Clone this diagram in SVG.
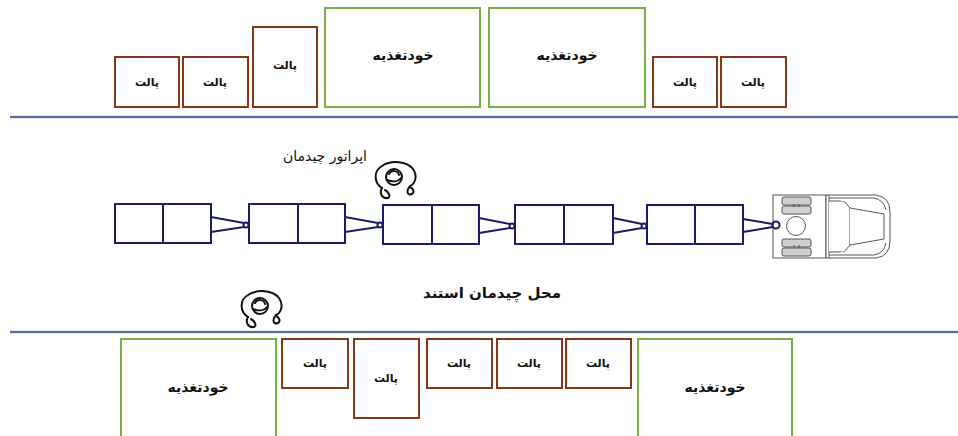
<svg xmlns="http://www.w3.org/2000/svg" xmlns:xlink="http://www.w3.org/1999/xlink" width="958" height="436" viewBox="0 0 958 436">
  <style>
    .pallet { fill: #fff; stroke: #8a3516; stroke-width: 2; }
    .feeder { fill: #fff; stroke: #78b046; stroke-width: 2; }
    .cart { fill: #fff; stroke: #1c1a6b; stroke-width: 2; }
    .hitch { fill: none; stroke: #1c1a6b; stroke-width: 2; }
    .lane { stroke: #34507a; stroke-width: 1.3; }
    .lane-glow { stroke: #c9d6e6; stroke-width: 3; }
    .truck { fill: #fff; stroke: #555; stroke-width: 1; }
    .wheel { fill: #cfcfcf; stroke: #555; stroke-width: 1; }
    .op { fill: none; stroke: #111; stroke-width: 2; stroke-linecap: round; }
    text { font-family: "DejaVu Sans", "Noto Sans", sans-serif; fill: #111; text-anchor: middle; dominant-baseline: central; }
    .t-pallet { font-size: 11px; font-weight: bold; }
    .t-feeder { font-size: 14px; font-weight: bold; }
    .t-label { font-size: 14px; }
    .t-zone { font-size: 15px; font-weight: bold; }
  </style>
  <defs>
    <!-- top-down sketch of a standing operator -->
    <g id="operator">
      <path class="op" d="M9,27 C1,22 0,10 9,5 C18,-1 34,0 40,8 C45,15 42,23 37,25"/>
      <path class="op" d="M9,27 C6,32 9,38 15,37 C18,36 16,31 12,29"/>
      <path class="op" d="M37,25 C33,30 34,35 39,33 C42,31 40,27 37,26"/>
      <circle class="op" cx="21" cy="16" r="8"/>
      <path class="op" d="M16,13 C18,9 25,9 26,14 M14,19 C19,21 25,21 28,17"/>
    </g>
  </defs>

  <rect width="958" height="436" fill="#fff"/>

  <!-- aisle boundaries -->
  <g id="lanes">
    <line class="lane-glow" x1="10" y1="117" x2="958" y2="117"/>
    <line class="lane" x1="10" y1="117" x2="958" y2="117"/>
    <line class="lane-glow" x1="10" y1="332" x2="958" y2="332"/>
    <line class="lane" x1="10" y1="332" x2="958" y2="332"/>
  </g>

  <!-- upper storage row -->
  <g id="pallet-t1"><rect class="pallet" x="115" y="57" width="64" height="50"/><text class="t-pallet" x="147" y="82">پالت</text></g>
  <g id="pallet-t2"><rect class="pallet" x="183" y="57" width="65" height="50"/><text class="t-pallet" x="215" y="82">پالت</text></g>
  <g id="pallet-t3"><rect class="pallet" x="253" y="27" width="64" height="80"/><text class="t-pallet" x="285" y="65">پالت</text></g>
  <g id="feeder-t1"><rect class="feeder" x="325" y="8" width="155" height="99"/><text class="t-feeder" x="403" y="55">خودتغذیه</text></g>
  <g id="feeder-t2"><rect class="feeder" x="489" y="8" width="156" height="99"/><text class="t-feeder" x="567" y="55">خودتغذیه</text></g>
  <g id="pallet-t4"><rect class="pallet" x="653" y="57" width="64" height="50"/><text class="t-pallet" x="685" y="82">پالت</text></g>
  <g id="pallet-t5"><rect class="pallet" x="721" y="57" width="65" height="50"/><text class="t-pallet" x="753" y="82">پالت</text></g>

  <!-- lower storage row -->
  <g id="feeder-b1"><rect class="feeder" x="121" y="339" width="155" height="110"/><text class="t-feeder" x="198" y="387">خودتغذیه</text></g>
  <g id="pallet-b1"><rect class="pallet" x="282" y="339" width="66" height="49"/><text class="t-pallet" x="315" y="363">پالت</text></g>
  <g id="pallet-b2"><rect class="pallet" x="354" y="339" width="65" height="79"/><text class="t-pallet" x="386" y="378">پالت</text></g>
  <g id="pallet-b3"><rect class="pallet" x="427" y="339" width="65" height="49"/><text class="t-pallet" x="459" y="363">پالت</text></g>
  <g id="pallet-b4"><rect class="pallet" x="497" y="339" width="65" height="49"/><text class="t-pallet" x="529" y="363">پالت</text></g>
  <g id="pallet-b5"><rect class="pallet" x="566" y="339" width="65" height="49"/><text class="t-pallet" x="598" y="363">پالت</text></g>
  <g id="feeder-b2"><rect class="feeder" x="638" y="339" width="154" height="110"/><text class="t-feeder" x="715" y="387">خودتغذیه</text></g>

  <!-- tugger train carts -->
  <g id="cart-1"><rect class="cart" x="115" y="204" width="96" height="39"/><line class="cart" x1="163" y1="204" x2="163" y2="243"/></g>
  <g id="cart-2"><rect class="cart" x="249" y="204" width="96" height="39"/><line class="cart" x1="298" y1="204" x2="298" y2="243"/></g>
  <g id="cart-3"><rect class="cart" x="383" y="205" width="96" height="39"/><line class="cart" x1="432" y1="205" x2="432" y2="244"/></g>
  <g id="cart-4"><rect class="cart" x="515" y="205" width="98" height="39"/><line class="cart" x1="564" y1="205" x2="564" y2="244"/></g>
  <g id="cart-5"><rect class="cart" x="647" y="205" width="96" height="39"/><line class="cart" x1="695" y1="205" x2="695" y2="244"/></g>

  <!-- tow bars between carts and tractor -->
  <g id="connectors">
    <path class="hitch" d="M211,217 L244,223 M211,232 L244,227"/>
    <circle class="hitch" cx="246" cy="225" r="2.5" stroke-width="1.5"/>
    <path class="hitch" d="M345,217 L378,223 M345,232 L378,227"/>
    <circle class="hitch" cx="380" cy="225" r="2.5" stroke-width="1.5"/>
    <path class="hitch" d="M479,218 L510,224 M479,233 L510,228"/>
    <circle class="hitch" cx="512" cy="226" r="2.5" stroke-width="1.5"/>
    <path class="hitch" d="M613,218 L642,224 M613,233 L642,228"/>
    <circle class="hitch" cx="644" cy="226" r="2.5" stroke-width="1.5"/>
    <path class="hitch" d="M743,219 L773,224 M743,232 L773,227"/>
    <circle class="hitch" cx="776" cy="225" r="3.5" stroke-width="2"/>
  </g>

  <!-- tractor seen from above -->
  <g id="tractor">
    <rect class="truck" x="773" y="195" width="53" height="63"/>
    <rect class="wheel" x="782" y="197" width="29" height="8" rx="2"/>
    <rect class="wheel" x="782" y="206" width="29" height="8" rx="2"/>
    <rect class="wheel" x="782" y="239" width="29" height="8" rx="2"/>
    <rect class="wheel" x="782" y="248" width="29" height="8" rx="2"/>
    <path class="truck" d="M794,204 v3 M799,204 v3 M794,245 v3 M799,245 v3" fill="none"/>
    <circle class="truck" cx="796" cy="226" r="9.5"/>
    <circle class="hitch" cx="776" cy="225" r="3.5" stroke-width="2"/>
    <path class="truck" d="M826,195 H876 Q890,197 890,212 V241 Q890,256 876,258 H826 Z"/>
    <path class="truck" d="M829,195 V258" fill="none"/>
    <path class="truck" d="M829,201 H844 L850,208 V245 L844,252 H829" fill="none"/>
    <path class="truck" d="M850,208 L884,214 V239 L850,245" fill="none"/>
    <path class="truck" d="M829,198 H874 Q884,200 886,210 M829,255 H874 Q884,253 886,243" fill="none"/>
  </g>

  <!-- operators -->
  <g id="operator-1">
    <use xlink:href="#operator" x="373" y="161"/>
    <text class="t-label" x="325" y="156">اپراتور چیدمان</text>
  </g>
  <g id="operator-2">
    <use xlink:href="#operator" x="239" y="290"/>
  </g>

  <g id="zone-label">
    <text class="t-zone" x="492" y="293">محل چیدمان استند</text>
  </g>
</svg>
